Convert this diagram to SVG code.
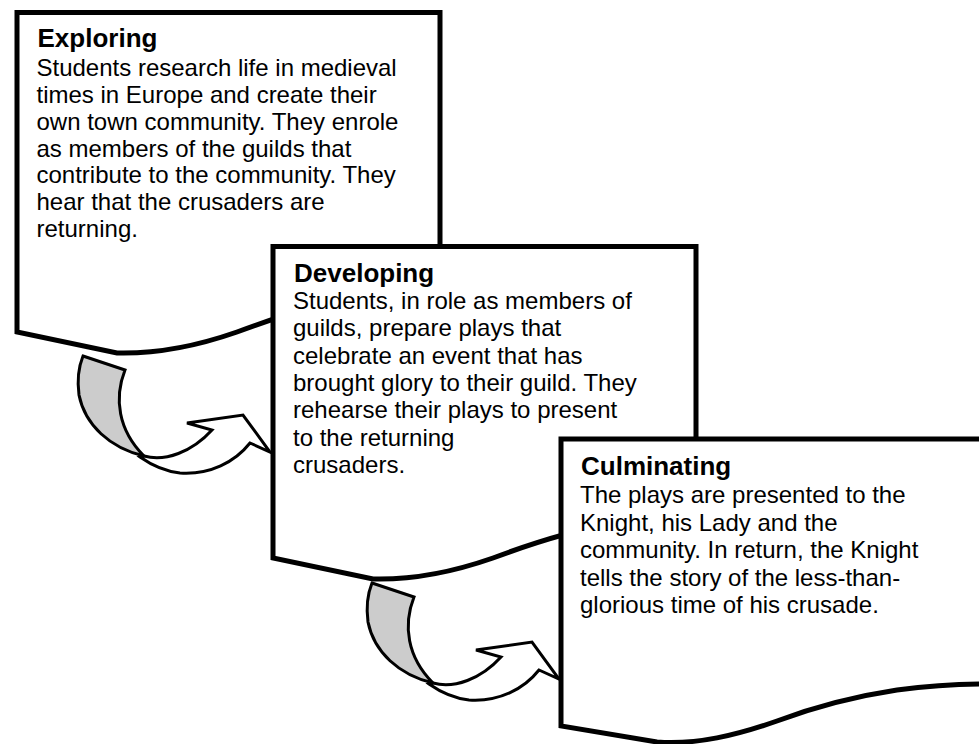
<svg xmlns="http://www.w3.org/2000/svg" xmlns:xlink="http://www.w3.org/1999/xlink" width="979" height="744" viewBox="0 0 979 744">
  <style>
    .doc { fill: #ffffff; stroke: #000000; stroke-width: 5; stroke-linejoin: miter; }
    .ribbon { fill: #cccccc; stroke: #000000; stroke-width: 3; stroke-linejoin: miter; }
    .body-arrow { fill: #ffffff; stroke: #000000; stroke-width: 3; stroke-linejoin: miter; }
    .title { font-family: "Liberation Sans", Arial, sans-serif; font-size: 26px; font-weight: bold; fill: #000000; }
    .txt { font-family: "Liberation Sans", Arial, sans-serif; font-size: 24px; fill: #000000; }
  </style>
  <defs>
    <!-- twisted curved arrow: grey back face, then white shaft and head -->
    <g id="curved-arrow">
      <path class="ribbon" d="M83,356 L125,370 C114,398 118,430 144,456 C110,448 85,425 79,395 C77,380 79,366 83,356 Z"/>
      <path class="body-arrow" d="M144,456 C165,462 192,452 212,430 L187,423 L243,415 L270,452 L250,443 C235,462 210,475 180,473 C162,471 150,464 140,457 Z"/>
    </g>
  </defs>

  <g id="connectors">
    <use xlink:href="#curved-arrow" href="#curved-arrow"/>
    <use xlink:href="#curved-arrow" href="#curved-arrow" transform="translate(289,227)"/>
  </g>

  <g id="exploring">
    <path class="doc" d="M17,12.5 H440 V291 C417,291 387,293 357,298 C317,304 277,317 237,332 C197,346 157,354 117,353 L17,332 Z"/>
    <text class="title" x="37.5" y="47">Exploring</text>
    <text class="txt" x="36.5" y="76">Students research life in medieval</text>
    <text class="txt" x="36.5" y="103">times in Europe and create their</text>
    <text class="txt" x="36.5" y="129.5">own town community. They enrole</text>
    <text class="txt" x="36.5" y="156.5">as members of the guilds that</text>
    <text class="txt" x="36.5" y="183">contribute to the community. They</text>
    <text class="txt" x="36.5" y="210">hear that the crusaders are</text>
    <text class="txt" x="36.5" y="237">returning.</text>
  </g>

  <g id="developing">
    <path class="doc" d="M273,246.5 H696 V517 C673,517 643,519 613,524 C573,530 533,543 493,558 C453,572 413,580 373,579 L273,558 Z"/>
    <text class="title" x="294" y="282">Developing</text>
    <text class="txt" x="293" y="309">Students, in role as members of</text>
    <text class="txt" x="293" y="336">guilds, prepare plays that</text>
    <text class="txt" x="293" y="363.5">celebrate an event that has</text>
    <text class="txt" x="293" y="391">brought glory to their guild. They</text>
    <text class="txt" x="293" y="418">rehearse their plays to present</text>
    <text class="txt" x="293" y="445.5">to the returning</text>
    <text class="txt" x="293" y="473">crusaders.</text>
  </g>

  <g id="culminating">
    <path class="doc" d="M561,439 H984 V684 C957,684 927,686 897,690 C857,696 817,706 777,721 C737,735 697,745 657,742 L561,726 Z"/>
    <text class="title" x="581" y="475">Culminating</text>
    <text class="txt" x="580" y="503">The plays are presented to the</text>
    <text class="txt" x="580" y="530.5">Knight, his Lady and the</text>
    <text class="txt" x="580" y="558">community. In return, the Knight</text>
    <text class="txt" x="580" y="585.5">tells the story of the less-than-</text>
    <text class="txt" x="580" y="613">glorious time of his crusade.</text>
  </g>
</svg>
